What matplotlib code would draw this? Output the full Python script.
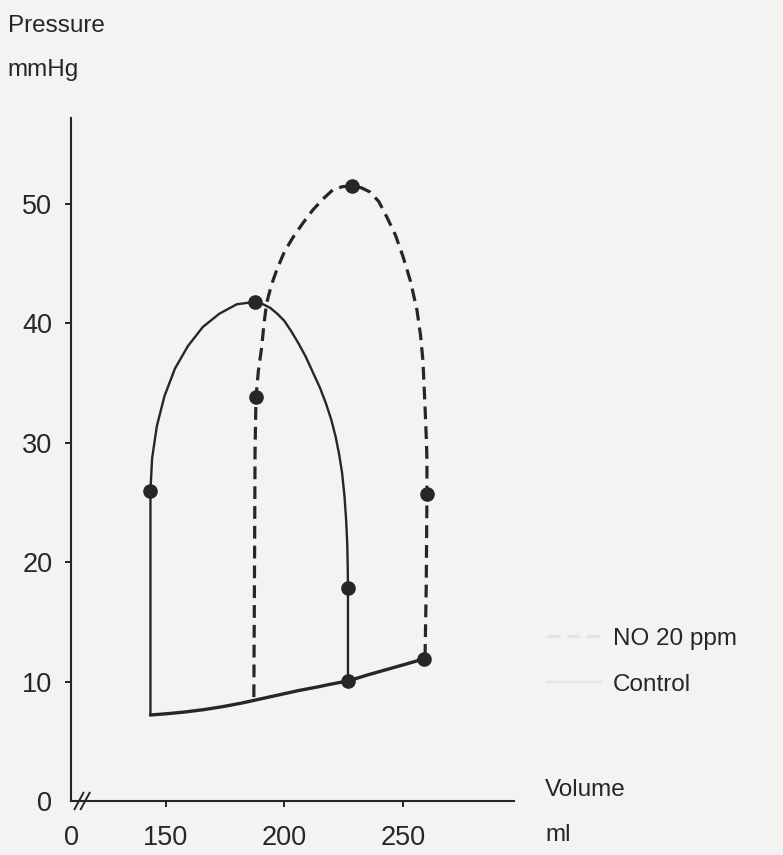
import matplotlib.pyplot as plt
from matplotlib.lines import Line2D

plt.rcParams['font.family'] = ['Liberation Sans', 'DejaVu Sans']

# Control loop (solid), volume ml / pressure mmHg
ctrl_vol = [143.5, 143.5, 144.2, 146.2, 149.4, 153.8, 159.3, 165.6, 172.5, 179.9,
            187.6, 191.0, 194.0, 197.0, 200.0, 203.0, 206.0, 209.0, 212.0, 215.0,
            217.5, 219.8, 221.6, 223.1, 224.3, 225.3, 226.0, 226.5, 226.7, 226.8,
            226.8]
ctrl_prs = [7.2, 26.0, 28.7, 31.4, 33.9, 36.2, 38.1, 39.7, 40.8, 41.6,
            41.8, 41.6, 41.3, 40.8, 40.2, 39.3, 38.3, 37.2, 35.9, 34.6,
            33.3, 31.9, 30.5, 29.0, 27.5, 25.6, 23.6, 21.5, 19.5, 17.8,
            10.05]
ctrl_pts_vol = [143.5, 187.6, 226.8, 226.8]
ctrl_pts_prs = [26.0, 41.8, 17.8, 10.05]

# NO 20 ppm loop (dashed)
no_vol = [187.1, 187.4, 187.6, 188.0, 189.0, 190.4, 191.4, 192.5, 194.5, 196.8,
          200.0, 203.6, 207.8, 212.0, 216.2, 220.5, 224.5, 228.5, 232.5, 236.1,
          239.8, 243.2, 246.8, 250.0, 253.2, 255.9, 257.4, 258.4, 259.3, 259.9,
          260.1, 260.1, 259.8, 259.3]
no_prs = [8.7, 20.0, 29.1, 33.8, 36.0, 38.0, 40.0, 41.7, 43.2, 44.5,
          46.0, 47.2, 48.4, 49.5, 50.4, 51.2, 51.45, 51.5, 51.35, 51.0,
          50.2, 48.9, 47.4, 45.6, 43.5, 41.1, 39.0, 36.9, 33.0, 30.0,
          28.6, 25.7, 18.0, 12.0]
no_pts_vol = [188.0, 228.5, 260.1]
no_pts_prs = [33.8, 51.5, 25.7]

# shared filling line along the bottom
fill_vol = [143.5, 150, 158, 166, 174, 182, 190, 198, 206, 214,
            220, 226.8, 235, 243, 251, 258.9]
fill_prs = [7.2, 7.3, 7.45, 7.65, 7.9, 8.2, 8.55, 8.9, 9.25, 9.55,
            9.8, 10.05, 10.55, 11.0, 11.45, 11.9]

xticks = [110, 150, 200, 250]
xlabels = ['0', '150', '200', '250']
yticks = [0, 10, 20, 30, 40, 50]

ink = '#262626'
paper = '#f3f3f1'
fs = 17.5

fig = plt.figure(figsize=(7.83, 8.55), dpi=100, facecolor=paper)
ax = fig.add_axes([0.0907, 0.0632, 0.5657, 0.7988])
ax.set_facecolor(paper)

ax.plot(ctrl_vol, ctrl_prs, color=ink, lw=1.7, solid_joinstyle='round')
ax.plot(fill_vol, fill_prs, color=ink, lw=2.4, solid_capstyle='round')
ax.plot(no_vol, no_prs, color=ink, lw=2.3, linestyle=(0, (4.0, 2.2)))
ax.plot(ctrl_pts_vol + no_pts_vol + [fill_vol[-1]],
        ctrl_pts_prs + no_pts_prs + [fill_prs[-1]],
        'o', color=ink, ms=9.5, ls='none')

ax.set_xlim(110, 296.8)
ax.set_ylim(0, 57.2)
ax.set_xticks(xticks)
ax.set_xticklabels(xlabels)
ax.set_yticks(yticks)
ax.tick_params(labelsize=19.5, colors=ink, width=1.4, length=4.5)
ax.tick_params(axis='x', pad=13)
ax.tick_params(axis='y', pad=9)
ax.get_xticklines()[0].set_visible(False)
ax.get_yticklines()[0].set_visible(False)

for s in ['top', 'right']:
    ax.spines[s].set_visible(False)
for s in ['left', 'bottom']:
    ax.spines[s].set_color(ink)
    ax.spines[s].set_linewidth(1.5)

# axis break marks
for dx in [0.018, 0.032]:
    ax.plot([dx - 0.01, dx + 0.01], [-0.012, 0.012], transform=ax.transAxes,
            color=ink, lw=1.4, clip_on=False)

fig.text(0.010, 0.970, 'Pressure', fontsize=fs, color=ink, va='center')
fig.text(0.010, 0.918, 'mmHg', fontsize=fs, color=ink, va='center')
fig.text(0.696, 0.076, 'Volume', fontsize=fs, color=ink, va='center')
fig.text(0.696, 0.023, 'ml', fontsize=fs, color=ink, va='center')

handles = [Line2D([], [], color='#e4e4e2', lw=2.3, linestyle=(0, (4.0, 2.2))),
           Line2D([], [], color='#e4e4e2', lw=1.7)]
ax.legend(handles, ['NO 20 ppm', 'Control'], loc='center left',
          bbox_to_anchor=(0.671, 0.226), bbox_transform=fig.transFigure,
          frameon=False, fontsize=fs, labelcolor=ink, handlelength=2.2,
          handletextpad=0.5, labelspacing=0.98)

fig.savefig('out.png', dpi=100, facecolor=paper)
